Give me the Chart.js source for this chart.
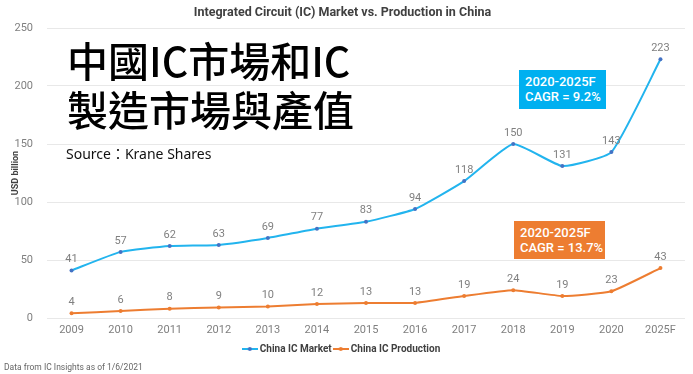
<!DOCTYPE html>
<html>
<head>
<meta charset="utf-8">
<script src="https://cdn.jsdelivr.net/npm/chart.js@4"></script>
<style>
  body { margin: 0; background: #fff; }
  #wrap { position: relative; width: 693px; height: 374px; overflow: hidden; }
  .ov { position: absolute; white-space: nowrap; }
  #big { left: 67px; top: 35px; font: 500 41px/49px "Noto Sans CJK TC"; color: #000; }
  #src { left: 66px; top: 144px; font: 14px/20px "Noto Sans", "Noto Sans CJK TC"; color: #111; }
  #foot { left: 4px; top: 361px; font: 8.5px/12px "Liberation Sans Narrow", Roboto; color: #666; }
  .box { color: #fff; font: 500 13px/14.5px Roboto; padding: 5px 6px; box-sizing: border-box; }
  #boxBlue { left: 519px; top: 70px; width: 87px; height: 39px; background: #00b0f0; }
  #boxOrange { left: 514px; top: 221px; width: 91px; height: 38px; background: #ed7d31; }
</style>
</head>
<body>
<div id="wrap">
  <canvas id="myChart" width="693" height="374"></canvas>
  <div class="ov" id="big">中國IC市場和IC<br>製造市場與產值</div>
  <div class="ov" id="src">Source：Krane Shares</div>
  <div class="ov box" id="boxBlue">2020-2025F<br>CAGR = 9.2%</div>
  <div class="ov box" id="boxOrange">2020-2025F<br>CAGR = 13.7%</div>
  <div class="ov" id="foot">Data from IC Insights as of 1/6/2021</div>
</div>
<script>
const years = ["2009", "2010", "2011", "2012", "2013", "2014", "2015", "2016", "2017", "2018", "2019", "2020", "2025F"];
const icMarket = [41, 57, 62, 63, 69, 77, 83, 94, 118, 150, 131, 143, 223];
const icProduction = [4, 6, 8, 9, 10, 12, 13, 13, 19, 24, 19, 23, 43];

const tickFont = { family: "'Liberation Sans Narrow', Roboto", size: 11 };
const marketLine = "#22b4ee";
const marketDot = "#4472c4";
const prodLine = "#ed7d31";

// little line-with-dot symbol for the legend
function legendMark(lineColor, dotColor) {
  const c = document.createElement("canvas");
  c.width = 16;
  c.height = 6;
  const g = c.getContext("2d");
  g.strokeStyle = lineColor;
  g.lineWidth = 2;
  g.beginPath();
  g.moveTo(0, 3);
  g.lineTo(16, 3);
  g.stroke();
  g.fillStyle = dotColor;
  g.beginPath();
  g.arc(8, 3, 2, 0, Math.PI * 2);
  g.fill();
  return c;
}
const marks = [legendMark(marketLine, marketDot), legendMark(prodLine, prodLine)];

const valueLabels = {
  id: "valueLabels",
  afterDatasetsDraw(chart) {
    const ctx = chart.ctx;
    ctx.save();
    ctx.font = "11px 'Liberation Sans Narrow', Roboto";
    ctx.fillStyle = "#808080";
    ctx.textAlign = "center";
    ctx.textBaseline = "middle";
    chart.data.datasets.forEach((ds, i) => {
      chart.getDatasetMeta(i).data.forEach((pt, j) => {
        ctx.fillText(ds.data[j], pt.x, pt.y - 11);
      });
    });
    ctx.restore();
  },
};

const ctx = document.getElementById("myChart").getContext("2d");
new Chart(ctx, {
  type: "line",
  data: {
    labels: years,
    datasets: [
      {
        label: "China IC Market",
        data: icMarket,
        borderColor: marketLine,
        borderWidth: 2,
        pointBackgroundColor: marketDot,
        pointBorderWidth: 0,
        pointRadius: 2,
        tension: 0.15,
      },
      {
        label: "China IC Production",
        data: icProduction,
        borderColor: prodLine,
        borderWidth: 2,
        pointBackgroundColor: prodLine,
        pointBorderWidth: 0,
        pointRadius: 2,
        tension: 0.15,
      },
    ],
  },
  options: {
    responsive: false,
    animation: false,
    layout: { padding: { left: 0, right: 8, top: 0, bottom: 10 } },
    scales: {
      x: {
        offset: true,
        grid: { display: false, drawTicks: false },
        border: { display: false },
        ticks: { color: "#7f7f7f", font: tickFont, padding: 6, maxRotation: 0 },
        afterFit(scale) {
          scale.height = 22;
        },
      },
      y: {
        min: 0,
        max: 250,
        ticks: { stepSize: 50, color: "#7f7f7f", font: tickFont, padding: 14 },
        grid: { color: "#e8e8e8", drawTicks: false },
        border: { display: false },
        title: {
          display: true,
          text: "USD billion",
          color: "#404040",
          font: { family: "Roboto", size: 9, weight: "bold" },
          padding: { top: 10, bottom: 0 },
        },
        afterFit(scale) {
          scale.width = 47;
        },
      },
    },
    plugins: {
      title: {
        display: true,
        text: "Integrated Circuit (IC) Market vs. Production in China",
        color: "#404040",
        font: { family: "Roboto", size: 12.5, weight: "bold" },
        padding: { top: 5, bottom: 8 },
      },
      legend: {
        position: "bottom",
        labels: {
          usePointStyle: true,
          color: "#404040",
          font: { family: "Roboto", size: 10, weight: "bold" },
          padding: 4,
          boxHeight: 6,
          boxWidth: 16,
          generateLabels(chart) {
            const items = Chart.defaults.plugins.legend.labels.generateLabels(chart);
            items.forEach((it, i) => {
              it.pointStyle = marks[i];
            });
            return items;
          },
        },
      },
      tooltip: { enabled: false },
    },
  },
  plugins: [valueLabels],
});
</script>
</body>
</html>
